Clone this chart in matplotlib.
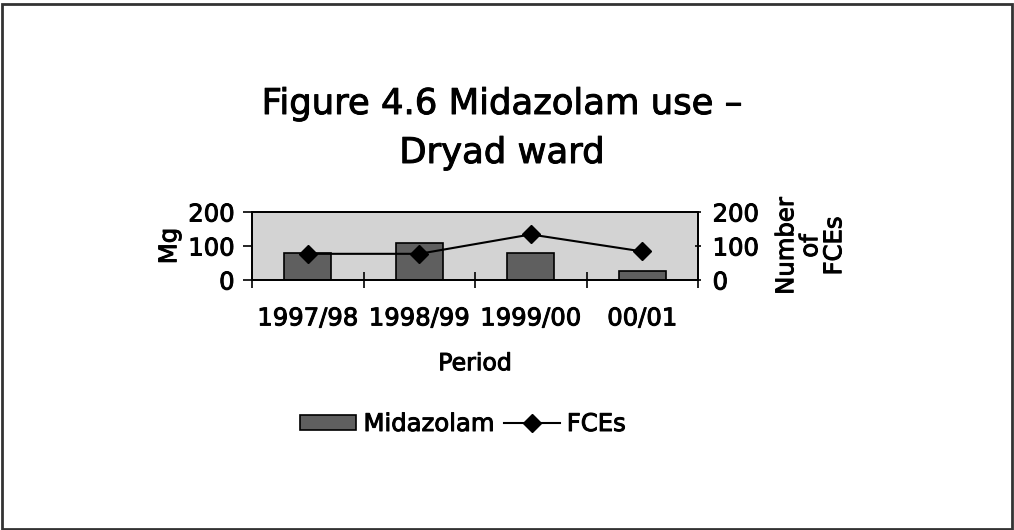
import matplotlib.pyplot as plt
import matplotlib.patheffects as pe
import numpy as np
from matplotlib.patches import Rectangle
from matplotlib.text import Text

plt.rcParams["font.family"] = ["DejaVu Sans"]

# Data
periods = ["1997/98", "1998/99", "1999/00", "00/01"]
midazolam = [79, 108, 79, 26]
fces = [77, 77, 134, 84]

W, H = 1014, 530
fig = plt.figure(figsize=(W / 100, H / 100), dpi=100)
ax = fig.add_axes([252 / W, 1 - 280 / H, 446 / W, 68 / H])
ax2 = ax.twinx()

x = np.arange(len(periods))
ax.set_facecolor("#d3d3d3")
ax.bar(x, midazolam, width=0.42, color="#5f5f5f", edgecolor="black", linewidth=1.2,
       label="Midazolam", zorder=2)
ax2.plot(x, fces, color="black", linewidth=1.5, marker="D", markersize=9,
         label="FCEs", zorder=3)

ax.set_xlim(-0.5, len(periods) - 0.5)
ax.set_ylim(0, 200)
ax2.set_ylim(0, 200)
ax.set_yticks([0, 100, 200])
ax2.set_yticks([0, 100, 200])

ax.set_xticks(x)
ax.set_xticklabels(periods, fontsize=17.5)
ax.tick_params(axis="x", which="major", length=0, pad=19)
ax.set_xticks(np.arange(-0.5, len(periods)), minor=True)
ax.tick_params(axis="x", which="minor", direction="inout", length=11, width=1.2)
ax.tick_params(axis="y", direction="out", length=6.5, width=1.2, labelsize=17.5, pad=6)
ax2.tick_params(axis="y", direction="inout", length=5, width=1.2, labelsize=17.5, pad=8)

for a in (ax, ax2):
    for sp in a.spines.values():
        sp.set_linewidth(1.3)
        sp.set_color("black")

ax.set_ylabel("Mg", fontsize=17.5, labelpad=5)
ax2.set_ylabel("Number\nof\nFCEs", fontsize=17.5, labelpad=11, linespacing=1.0)
ax.set_xlabel("Period", fontsize=17, labelpad=15)

fig.text(502 / W, 1 - 114 / H, "Figure 4.6 Midazolam use \u2013", ha="center",
         va="baseline", fontsize=25.5)
fig.text(502 / W, 1 - 163 / H, "Dryad ward", ha="center", va="baseline", fontsize=25.5)

h1, l1 = ax.get_legend_handles_labels()
h2, l2 = ax2.get_legend_handles_labels()
fig.legend(h1 + h2, l1 + l2, loc="center", bbox_to_anchor=(463 / W, 1 - 424 / H),
           ncol=2, frameon=False, fontsize=17.5, handlelength=2.3, handleheight=0.6,
           columnspacing=0.4, handletextpad=0.3)

# slightly heavier text, closer to the scanned original
for t in fig.findobj(Text):
    t.set_path_effects([pe.withStroke(linewidth=0.7, foreground="black")])

fig.patches.append(Rectangle((2 / W, 1 / H), 1010 / W, 525 / H,
                             transform=fig.transFigure, fill=False,
                             edgecolor="#333333", linewidth=2))

fig.savefig("out.png", dpi=100)
